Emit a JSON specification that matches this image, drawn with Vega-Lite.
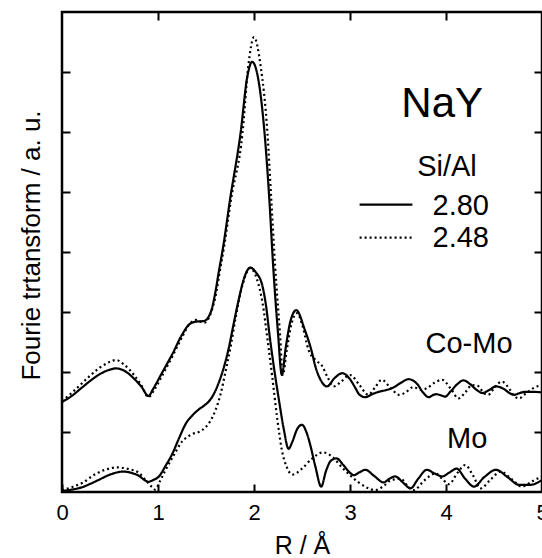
{
  "$schema": "https://vega.github.io/schema/vega-lite/v6.json",
  "width": 480,
  "height": 480,
  "autosize": {"type": "none"},
  "padding": {"left": 62, "top": 12, "right": 0, "bottom": 66},
  "background": "white",
  "config": {
    "font": "Liberation Sans",
    "view": {"stroke": "black", "strokeWidth": 2.5},
    "axis": {"grid": false, "domain": false, "tickColor": "black", "tickWidth": 2, "tickSize": -8, "labelColor": "black", "titleColor": "black", "titleFontWeight": "normal", "labelFont": "Liberation Sans", "titleFont": "Liberation Sans"}
  },
  "datasets": {
    "one": [{}],
    "curves": [
      {"c":"CoMo","s":"2.80","R":0.0,"v":1.50},{"c":"CoMo","s":"2.80","R":0.1,"v":1.60},{"c":"CoMo","s":"2.80","R":0.2,"v":1.73},{"c":"CoMo","s":"2.80","R":0.3,"v":1.86},{"c":"CoMo","s":"2.80","R":0.4,"v":1.97},{"c":"CoMo","s":"2.80","R":0.5,"v":2.04},{"c":"CoMo","s":"2.80","R":0.56,"v":2.06},{"c":"CoMo","s":"2.80","R":0.65,"v":2.02},{"c":"CoMo","s":"2.80","R":0.75,"v":1.89},{"c":"CoMo","s":"2.80","R":0.83,"v":1.75},{"c":"CoMo","s":"2.80","R":0.9,"v":1.60},{"c":"CoMo","s":"2.80","R":0.95,"v":1.72},{"c":"CoMo","s":"2.80","R":1.04,"v":1.98},{"c":"CoMo","s":"2.80","R":1.15,"v":2.30},{"c":"CoMo","s":"2.80","R":1.25,"v":2.62},{"c":"CoMo","s":"2.80","R":1.33,"v":2.80},{"c":"CoMo","s":"2.80","R":1.4,"v":2.84},{"c":"CoMo","s":"2.80","R":1.48,"v":2.85},{"c":"CoMo","s":"2.80","R":1.55,"v":3.00},{"c":"CoMo","s":"2.80","R":1.6,"v":3.35},{"c":"CoMo","s":"2.80","R":1.63,"v":3.64},{"c":"CoMo","s":"2.80","R":1.68,"v":4.10},{"c":"CoMo","s":"2.80","R":1.75,"v":4.87},{"c":"CoMo","s":"2.80","R":1.86,"v":5.98},{"c":"CoMo","s":"2.80","R":1.93,"v":6.92},{"c":"CoMo","s":"2.80","R":1.98,"v":7.17},{"c":"CoMo","s":"2.80","R":2.04,"v":6.92},{"c":"CoMo","s":"2.80","R":2.11,"v":5.98},{"c":"CoMo","s":"2.80","R":2.16,"v":4.87},{"c":"CoMo","s":"2.80","R":2.2,"v":3.76},{"c":"CoMo","s":"2.80","R":2.25,"v":2.65},{"c":"CoMo","s":"2.80","R":2.29,"v":1.95},{"c":"CoMo","s":"2.80","R":2.33,"v":2.40},{"c":"CoMo","s":"2.80","R":2.38,"v":2.85},{"c":"CoMo","s":"2.80","R":2.44,"v":3.03},{"c":"CoMo","s":"2.80","R":2.53,"v":2.70},{"c":"CoMo","s":"2.80","R":2.6,"v":2.35},{"c":"CoMo","s":"2.80","R":2.64,"v":2.09},{"c":"CoMo","s":"2.80","R":2.7,"v":1.85},{"c":"CoMo","s":"2.80","R":2.76,"v":1.76},{"c":"CoMo","s":"2.80","R":2.84,"v":1.90},{"c":"CoMo","s":"2.80","R":2.92,"v":1.98},{"c":"CoMo","s":"2.80","R":3.0,"v":1.88},{"c":"CoMo","s":"2.80","R":3.05,"v":1.75},{"c":"CoMo","s":"2.80","R":3.1,"v":1.62},{"c":"CoMo","s":"2.80","R":3.16,"v":1.58},{"c":"CoMo","s":"2.80","R":3.23,"v":1.63},{"c":"CoMo","s":"2.80","R":3.3,"v":1.67},{"c":"CoMo","s":"2.80","R":3.38,"v":1.70},{"c":"CoMo","s":"2.80","R":3.45,"v":1.74},{"c":"CoMo","s":"2.80","R":3.53,"v":1.82},{"c":"CoMo","s":"2.80","R":3.61,"v":1.88},{"c":"CoMo","s":"2.80","R":3.7,"v":1.80},{"c":"CoMo","s":"2.80","R":3.76,"v":1.66},{"c":"CoMo","s":"2.80","R":3.82,"v":1.58},{"c":"CoMo","s":"2.80","R":3.87,"v":1.62},{"c":"CoMo","s":"2.80","R":3.9,"v":1.63},{"c":"CoMo","s":"2.80","R":3.95,"v":1.61},{"c":"CoMo","s":"2.80","R":3.99,"v":1.59},{"c":"CoMo","s":"2.80","R":4.05,"v":1.68},{"c":"CoMo","s":"2.80","R":4.12,"v":1.80},{"c":"CoMo","s":"2.80","R":4.18,"v":1.86},{"c":"CoMo","s":"2.80","R":4.25,"v":1.80},{"c":"CoMo","s":"2.80","R":4.32,"v":1.70},{"c":"CoMo","s":"2.80","R":4.38,"v":1.65},{"c":"CoMo","s":"2.80","R":4.45,"v":1.70},{"c":"CoMo","s":"2.80","R":4.52,"v":1.76},{"c":"CoMo","s":"2.80","R":4.6,"v":1.72},{"c":"CoMo","s":"2.80","R":4.66,"v":1.65},{"c":"CoMo","s":"2.80","R":4.71,"v":1.62},{"c":"CoMo","s":"2.80","R":4.77,"v":1.65},{"c":"CoMo","s":"2.80","R":4.83,"v":1.67},{"c":"CoMo","s":"2.80","R":4.9,"v":1.67},{"c":"CoMo","s":"2.80","R":5.0,"v":1.66},

      {"c":"CoMo","s":"2.48","R":0.0,"v":1.52},{"c":"CoMo","s":"2.48","R":0.1,"v":1.65},{"c":"CoMo","s":"2.48","R":0.2,"v":1.80},{"c":"CoMo","s":"2.48","R":0.3,"v":1.95},{"c":"CoMo","s":"2.48","R":0.4,"v":2.08},{"c":"CoMo","s":"2.48","R":0.5,"v":2.17},{"c":"CoMo","s":"2.48","R":0.56,"v":2.20},{"c":"CoMo","s":"2.48","R":0.65,"v":2.12},{"c":"CoMo","s":"2.48","R":0.75,"v":1.95},{"c":"CoMo","s":"2.48","R":0.83,"v":1.77},{"c":"CoMo","s":"2.48","R":0.9,"v":1.58},{"c":"CoMo","s":"2.48","R":0.96,"v":1.70},{"c":"CoMo","s":"2.48","R":1.05,"v":1.96},{"c":"CoMo","s":"2.48","R":1.15,"v":2.26},{"c":"CoMo","s":"2.48","R":1.25,"v":2.58},{"c":"CoMo","s":"2.48","R":1.33,"v":2.80},{"c":"CoMo","s":"2.48","R":1.39,"v":2.87},{"c":"CoMo","s":"2.48","R":1.48,"v":2.82},{"c":"CoMo","s":"2.48","R":1.55,"v":2.98},{"c":"CoMo","s":"2.48","R":1.61,"v":3.35},{"c":"CoMo","s":"2.48","R":1.64,"v":3.64},{"c":"CoMo","s":"2.48","R":1.69,"v":4.10},{"c":"CoMo","s":"2.48","R":1.76,"v":4.87},{"c":"CoMo","s":"2.48","R":1.88,"v":5.98},{"c":"CoMo","s":"2.48","R":1.94,"v":7.09},{"c":"CoMo","s":"2.48","R":2.0,"v":7.58},{"c":"CoMo","s":"2.48","R":2.07,"v":7.09},{"c":"CoMo","s":"2.48","R":2.14,"v":5.98},{"c":"CoMo","s":"2.48","R":2.18,"v":4.87},{"c":"CoMo","s":"2.48","R":2.22,"v":3.76},{"c":"CoMo","s":"2.48","R":2.27,"v":2.65},{"c":"CoMo","s":"2.48","R":2.3,"v":1.95},{"c":"CoMo","s":"2.48","R":2.34,"v":2.35},{"c":"CoMo","s":"2.48","R":2.39,"v":2.80},{"c":"CoMo","s":"2.48","R":2.45,"v":2.98},{"c":"CoMo","s":"2.48","R":2.5,"v":2.80},{"c":"CoMo","s":"2.48","R":2.57,"v":2.36},{"c":"CoMo","s":"2.48","R":2.64,"v":2.20},{"c":"CoMo","s":"2.48","R":2.71,"v":2.10},{"c":"CoMo","s":"2.48","R":2.77,"v":1.90},{"c":"CoMo","s":"2.48","R":2.83,"v":1.76},{"c":"CoMo","s":"2.48","R":2.9,"v":1.83},{"c":"CoMo","s":"2.48","R":3.0,"v":1.95},{"c":"CoMo","s":"2.48","R":3.1,"v":1.78},{"c":"CoMo","s":"2.48","R":3.19,"v":1.62},{"c":"CoMo","s":"2.48","R":3.26,"v":1.74},{"c":"CoMo","s":"2.48","R":3.33,"v":1.87},{"c":"CoMo","s":"2.48","R":3.42,"v":1.74},{"c":"CoMo","s":"2.48","R":3.51,"v":1.62},{"c":"CoMo","s":"2.48","R":3.58,"v":1.66},{"c":"CoMo","s":"2.48","R":3.66,"v":1.75},{"c":"CoMo","s":"2.48","R":3.74,"v":1.70},{"c":"CoMo","s":"2.48","R":3.8,"v":1.73},{"c":"CoMo","s":"2.48","R":3.88,"v":1.82},{"c":"CoMo","s":"2.48","R":3.96,"v":1.87},{"c":"CoMo","s":"2.48","R":4.05,"v":1.72},{"c":"CoMo","s":"2.48","R":4.13,"v":1.56},{"c":"CoMo","s":"2.48","R":4.2,"v":1.66},{"c":"CoMo","s":"2.48","R":4.27,"v":1.78},{"c":"CoMo","s":"2.48","R":4.33,"v":1.77},{"c":"CoMo","s":"2.48","R":4.4,"v":1.64},{"c":"CoMo","s":"2.48","R":4.44,"v":1.62},{"c":"CoMo","s":"2.48","R":4.51,"v":1.75},{"c":"CoMo","s":"2.48","R":4.58,"v":1.84},{"c":"CoMo","s":"2.48","R":4.66,"v":1.72},{"c":"CoMo","s":"2.48","R":4.71,"v":1.60},{"c":"CoMo","s":"2.48","R":4.76,"v":1.56},{"c":"CoMo","s":"2.48","R":4.83,"v":1.64},{"c":"CoMo","s":"2.48","R":4.92,"v":1.74},{"c":"CoMo","s":"2.48","R":5.0,"v":1.78},

      {"c":"Mo","s":"2.80","R":0.0,"v":0.02},{"c":"Mo","s":"2.80","R":0.1,"v":0.04},{"c":"Mo","s":"2.80","R":0.21,"v":0.08},{"c":"Mo","s":"2.80","R":0.3,"v":0.14},{"c":"Mo","s":"2.80","R":0.38,"v":0.20},{"c":"Mo","s":"2.80","R":0.5,"v":0.29},{"c":"Mo","s":"2.80","R":0.64,"v":0.34},{"c":"Mo","s":"2.80","R":0.72,"v":0.32},{"c":"Mo","s":"2.80","R":0.8,"v":0.27},{"c":"Mo","s":"2.80","R":0.86,"v":0.20},{"c":"Mo","s":"2.80","R":0.9,"v":0.17},{"c":"Mo","s":"2.80","R":0.95,"v":0.20},{"c":"Mo","s":"2.80","R":1.01,"v":0.26},{"c":"Mo","s":"2.80","R":1.08,"v":0.44},{"c":"Mo","s":"2.80","R":1.15,"v":0.64},{"c":"Mo","s":"2.80","R":1.22,"v":0.90},{"c":"Mo","s":"2.80","R":1.29,"v":1.14},{"c":"Mo","s":"2.80","R":1.36,"v":1.28},{"c":"Mo","s":"2.80","R":1.42,"v":1.37},{"c":"Mo","s":"2.80","R":1.48,"v":1.44},{"c":"Mo","s":"2.80","R":1.53,"v":1.51},{"c":"Mo","s":"2.80","R":1.58,"v":1.63},{"c":"Mo","s":"2.80","R":1.63,"v":1.81},{"c":"Mo","s":"2.80","R":1.69,"v":2.10},{"c":"Mo","s":"2.80","R":1.74,"v":2.42},{"c":"Mo","s":"2.80","R":1.79,"v":2.82},{"c":"Mo","s":"2.80","R":1.84,"v":3.20},{"c":"Mo","s":"2.80","R":1.9,"v":3.58},{"c":"Mo","s":"2.80","R":1.96,"v":3.74},{"c":"Mo","s":"2.80","R":2.02,"v":3.66},{"c":"Mo","s":"2.80","R":2.09,"v":3.42},{"c":"Mo","s":"2.80","R":2.13,"v":3.05},{"c":"Mo","s":"2.80","R":2.16,"v":2.64},{"c":"Mo","s":"2.80","R":2.21,"v":2.05},{"c":"Mo","s":"2.80","R":2.26,"v":1.53},{"c":"Mo","s":"2.80","R":2.31,"v":1.05},{"c":"Mo","s":"2.80","R":2.36,"v":0.72},{"c":"Mo","s":"2.80","R":2.4,"v":0.84},{"c":"Mo","s":"2.80","R":2.45,"v":1.05},{"c":"Mo","s":"2.80","R":2.5,"v":1.12},{"c":"Mo","s":"2.80","R":2.55,"v":0.98},{"c":"Mo","s":"2.80","R":2.59,"v":0.76},{"c":"Mo","s":"2.80","R":2.64,"v":0.42},{"c":"Mo","s":"2.80","R":2.7,"v":0.09},{"c":"Mo","s":"2.80","R":2.75,"v":0.35},{"c":"Mo","s":"2.80","R":2.8,"v":0.52},{"c":"Mo","s":"2.80","R":2.86,"v":0.56},{"c":"Mo","s":"2.80","R":2.93,"v":0.45},{"c":"Mo","s":"2.80","R":3.0,"v":0.32},{"c":"Mo","s":"2.80","R":3.04,"v":0.28},{"c":"Mo","s":"2.80","R":3.1,"v":0.33},{"c":"Mo","s":"2.80","R":3.16,"v":0.37},{"c":"Mo","s":"2.80","R":3.25,"v":0.27},{"c":"Mo","s":"2.80","R":3.35,"v":0.16},{"c":"Mo","s":"2.80","R":3.41,"v":0.22},{"c":"Mo","s":"2.80","R":3.47,"v":0.26},{"c":"Mo","s":"2.80","R":3.55,"v":0.16},{"c":"Mo","s":"2.80","R":3.63,"v":0.06},{"c":"Mo","s":"2.80","R":3.71,"v":0.22},{"c":"Mo","s":"2.80","R":3.8,"v":0.37},{"c":"Mo","s":"2.80","R":3.88,"v":0.31},{"c":"Mo","s":"2.80","R":3.96,"v":0.26},{"c":"Mo","s":"2.80","R":4.04,"v":0.33},{"c":"Mo","s":"2.80","R":4.11,"v":0.39},{"c":"Mo","s":"2.80","R":4.2,"v":0.22},{"c":"Mo","s":"2.80","R":4.29,"v":0.09},{"c":"Mo","s":"2.80","R":4.4,"v":0.25},{"c":"Mo","s":"2.80","R":4.52,"v":0.37},{"c":"Mo","s":"2.80","R":4.64,"v":0.25},{"c":"Mo","s":"2.80","R":4.76,"v":0.12},{"c":"Mo","s":"2.80","R":4.88,"v":0.12},{"c":"Mo","s":"2.80","R":5.0,"v":0.20},

      {"c":"Mo","s":"2.48","R":0.0,"v":0.03},{"c":"Mo","s":"2.48","R":0.1,"v":0.08},{"c":"Mo","s":"2.48","R":0.21,"v":0.15},{"c":"Mo","s":"2.48","R":0.35,"v":0.30},{"c":"Mo","s":"2.48","R":0.45,"v":0.37},{"c":"Mo","s":"2.48","R":0.57,"v":0.41},{"c":"Mo","s":"2.48","R":0.7,"v":0.38},{"c":"Mo","s":"2.48","R":0.8,"v":0.32},{"c":"Mo","s":"2.48","R":0.88,"v":0.18},{"c":"Mo","s":"2.48","R":0.94,"v":0.08},{"c":"Mo","s":"2.48","R":0.97,"v":0.04},{"c":"Mo","s":"2.48","R":1.02,"v":0.18},{"c":"Mo","s":"2.48","R":1.08,"v":0.37},{"c":"Mo","s":"2.48","R":1.16,"v":0.60},{"c":"Mo","s":"2.48","R":1.25,"v":0.84},{"c":"Mo","s":"2.48","R":1.35,"v":0.96},{"c":"Mo","s":"2.48","R":1.46,"v":1.03},{"c":"Mo","s":"2.48","R":1.54,"v":1.17},{"c":"Mo","s":"2.48","R":1.6,"v":1.37},{"c":"Mo","s":"2.48","R":1.65,"v":1.62},{"c":"Mo","s":"2.48","R":1.7,"v":1.98},{"c":"Mo","s":"2.48","R":1.76,"v":2.45},{"c":"Mo","s":"2.48","R":1.81,"v":2.92},{"c":"Mo","s":"2.48","R":1.88,"v":3.45},{"c":"Mo","s":"2.48","R":1.96,"v":3.73},{"c":"Mo","s":"2.48","R":2.03,"v":3.55},{"c":"Mo","s":"2.48","R":2.09,"v":3.14},{"c":"Mo","s":"2.48","R":2.14,"v":2.55},{"c":"Mo","s":"2.48","R":2.19,"v":1.92},{"c":"Mo","s":"2.48","R":2.24,"v":1.25},{"c":"Mo","s":"2.48","R":2.29,"v":0.70},{"c":"Mo","s":"2.48","R":2.34,"v":0.42},{"c":"Mo","s":"2.48","R":2.4,"v":0.29},{"c":"Mo","s":"2.48","R":2.5,"v":0.39},{"c":"Mo","s":"2.48","R":2.6,"v":0.55},{"c":"Mo","s":"2.48","R":2.72,"v":0.66},{"c":"Mo","s":"2.48","R":2.82,"v":0.58},{"c":"Mo","s":"2.48","R":2.91,"v":0.42},{"c":"Mo","s":"2.48","R":3.0,"v":0.28},{"c":"Mo","s":"2.48","R":3.09,"v":0.16},{"c":"Mo","s":"2.48","R":3.18,"v":0.07},{"c":"Mo","s":"2.48","R":3.26,"v":0.03},{"c":"Mo","s":"2.48","R":3.35,"v":0.10},{"c":"Mo","s":"2.48","R":3.43,"v":0.20},{"c":"Mo","s":"2.48","R":3.53,"v":0.22},{"c":"Mo","s":"2.48","R":3.6,"v":0.10},{"c":"Mo","s":"2.48","R":3.66,"v":0.03},{"c":"Mo","s":"2.48","R":3.78,"v":0.20},{"c":"Mo","s":"2.48","R":3.89,"v":0.31},{"c":"Mo","s":"2.48","R":3.96,"v":0.22},{"c":"Mo","s":"2.48","R":4.03,"v":0.13},{"c":"Mo","s":"2.48","R":4.12,"v":0.32},{"c":"Mo","s":"2.48","R":4.2,"v":0.45},{"c":"Mo","s":"2.48","R":4.28,"v":0.28},{"c":"Mo","s":"2.48","R":4.36,"v":0.06},{"c":"Mo","s":"2.48","R":4.46,"v":0.20},{"c":"Mo","s":"2.48","R":4.57,"v":0.34},{"c":"Mo","s":"2.48","R":4.68,"v":0.22},{"c":"Mo","s":"2.48","R":4.79,"v":0.09},{"c":"Mo","s":"2.48","R":4.9,"v":0.18},{"c":"Mo","s":"2.48","R":5.0,"v":0.26}
    ]
  },
  "layer": [
    {
      "data": {"name": "curves"},
      "mark": {"type": "line", "interpolate": "monotone", "color": "black", "strokeWidth": 2.2, "clip": true},
      "encoding": {
        "x": {"field": "R", "type": "quantitative", "scale": {"domain": [0, 5], "nice": false},
              "axis": {"orient": "bottom", "title": "R / Å", "values": [0, 1, 2, 3, 4, 5], "labelFontSize": 22, "titleFontSize": 25, "labelPadding": 18, "titlePadding": 10, "labelFlush": false}},
        "y": {"field": "v", "type": "quantitative", "scale": {"domain": [0, 8], "nice": false, "zero": false},
              "axis": {"orient": "left", "title": "Fourie trtansform / a. u.", "values": [1, 2, 3, 4, 5, 6, 7], "labels": false, "titleFontSize": 26, "titlePadding": 17, "titleY": 233}},
        "detail": {"field": "c"},
        "strokeDash": {"field": "s", "type": "nominal", "scale": {"domain": ["2.80", "2.48"], "range": [[1, 0], [2, 3]]}, "legend": null}
      }
    },
    {
      "data": {"name": "curves"},
      "mark": {"type": "line", "strokeOpacity": 0},
      "encoding": {
        "x": {"field": "R", "type": "quantitative", "axis": {"orient": "top", "title": null, "labels": false, "values": [1, 2, 3, 4]}},
        "y": {"field": "v", "type": "quantitative", "axis": {"orient": "right", "title": null, "labels": false, "values": [1, 2, 3, 4, 5, 6, 7]}},
        "detail": {"field": "c"}
      }
    },
    {
      "data": {"name": "one"},
      "mark": {"type": "rule", "color": "black", "strokeWidth": 2.2},
      "encoding": {"x": {"datum": 3.1, "axis": null}, "x2": {"datum": 3.65}, "y": {"datum": 4.79, "axis": null}}
    },
    {
      "data": {"name": "one"},
      "mark": {"type": "rule", "color": "black", "strokeWidth": 2.2, "strokeDash": [2, 3]},
      "encoding": {"x": {"datum": 3.1, "axis": null}, "x2": {"datum": 3.65}, "y": {"datum": 4.24, "axis": null}}
    },
    {
      "data": {"name": "one"},
      "mark": {"type": "text", "text": "NaY", "fontSize": 42, "align": "center", "baseline": "alphabetic", "color": "black"},
      "encoding": {"x": {"datum": 3.96, "axis": null}, "y": {"datum": 6.25, "axis": null}}
    },
    {
      "data": {"name": "one"},
      "mark": {"type": "text", "text": "Si/Al", "fontSize": 29, "align": "center", "baseline": "alphabetic", "color": "black"},
      "encoding": {"x": {"datum": 4.01, "axis": null}, "y": {"datum": 5.27, "axis": null}}
    },
    {
      "data": {"name": "one"},
      "mark": {"type": "text", "text": "2.80", "fontSize": 29, "align": "left", "baseline": "alphabetic", "color": "black"},
      "encoding": {"x": {"datum": 3.86, "axis": null}, "y": {"datum": 4.61, "axis": null}}
    },
    {
      "data": {"name": "one"},
      "mark": {"type": "text", "text": "2.48", "fontSize": 29, "align": "left", "baseline": "alphabetic", "color": "black"},
      "encoding": {"x": {"datum": 3.86, "axis": null}, "y": {"datum": 4.08, "axis": null}}
    },
    {
      "data": {"name": "one"},
      "mark": {"type": "text", "text": "Co-Mo", "fontSize": 29, "align": "center", "baseline": "alphabetic", "color": "black"},
      "encoding": {"x": {"datum": 4.24, "axis": null}, "y": {"datum": 2.31, "axis": null}}
    },
    {
      "data": {"name": "one"},
      "mark": {"type": "text", "text": "Mo", "fontSize": 29, "align": "center", "baseline": "alphabetic", "color": "black"},
      "encoding": {"x": {"datum": 4.22, "axis": null}, "y": {"datum": 0.73, "axis": null}}
    }
  ],
  "resolve": {"axis": {"x": "independent", "y": "independent"}}
}
